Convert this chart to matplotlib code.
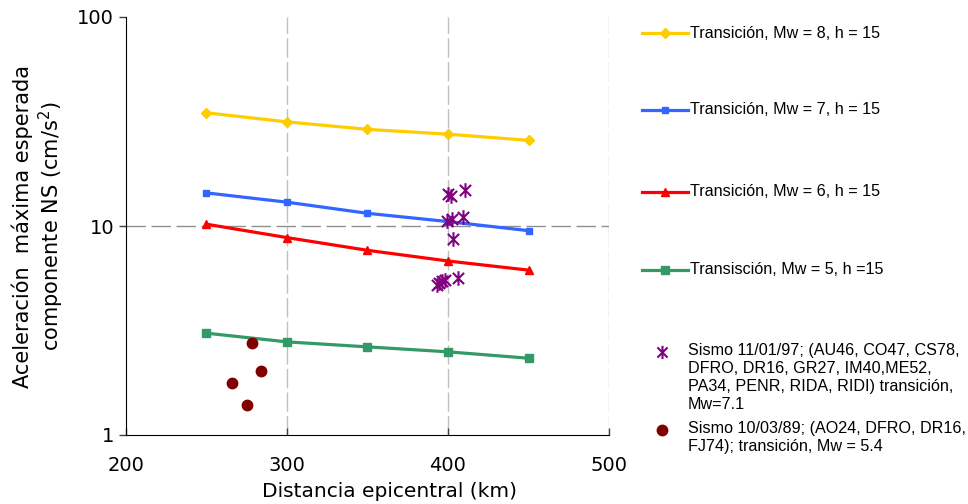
import numpy as np
import matplotlib.pyplot as plt
from matplotlib.lines import Line2D
from matplotlib.path import Path


distance = [250, 300, 350, 400, 450]
mw8 = [34.8, 31.5, 29.0, 27.5, 25.7]
mw7 = [14.4, 13.0, 11.5, 10.5, 9.5]
mw6 = [10.2, 8.8, 7.65, 6.8, 6.15]
mw5 = [3.07, 2.79, 2.64, 2.50, 2.33]

sismo97_x = [400.2, 401.7, 410.6, 399.6, 402.7, 409.1, 402.9, 394.4, 396.3, 398.1, 406.0, 393.2]
sismo97_y = [14.2, 13.9, 14.9, 10.6, 10.8, 11.0, 8.67, 5.32, 5.45, 5.52, 5.62, 5.2]

sismo89_x = [278.4, 283.9, 266.0, 275.0]
sismo89_y = [2.77, 2.02, 1.77, 1.39]

series = [
    ("Transición, Mw = 8, h = 15", mw8, "#FFCC00", "D", 5),
    ("Transición, Mw = 7, h = 15", mw7, "#3366FF", "s", 5),
    ("Transición, Mw = 6, h = 15", mw6, "#FF0000", "^", 6),
    ("Transisción, Mw = 5, h =15", mw5, "#339966", "s", 6),
]
star_label = ("Sismo 11/01/97; (AU46, CO47, CS78,\nDFRO, DR16, GR27, IM40,ME52,\n"
              "PA34, PENR, RIDA, RIDI) transición,\nMw=7.1")
circle_label = "Sismo 10/03/89; (AO24, DFRO, DR16,\nFJ74); transición, Mw = 5.4"

# asterisk like the spreadsheet one: an X plus a vertical bar
star = Path([(-1, -1), (1, 1), (-1, 1), (1, -1), (0, -1.3), (0, 1.3)],
            [Path.MOVETO, Path.LINETO, Path.MOVETO, Path.LINETO, Path.MOVETO, Path.LINETO])

W, H = 968, 504
fig = plt.figure(figsize=(W / 100, H / 100), dpi=100)
ax = fig.add_axes([126 / W, 1 - 435 / H, (609 - 126) / W, (435 - 17) / H])

for x in [300, 400, 500]:
    ax.axvline(x, color="#c0c0c0", lw=1, dashes=(14, 3), zorder=0)
ax.axhline(10, color="#909090", lw=1, dashes=(14, 4), zorder=0)

for label, vals, color, marker, ms in series:
    ax.plot(distance, vals, color=color, lw=2.3, marker=marker, ms=ms, label=label)

ax.plot(sismo97_x, sismo97_y, ls="none", marker=star, ms=10.5, mew=1.5,
        color="#800080", markerfacecolor="none")
ax.plot(sismo89_x, sismo89_y, ls="none", marker="o", ms=7.5, color="#800000")

ax.set_yscale("log")
ax.set_xlim(200, 500)
ax.set_ylim(1, 100)
ax.set_xticks([200, 300, 400, 500])
ax.set_yticks([1, 10, 100])
ax.set_yticklabels(["1", "10", "100"])
ax.minorticks_off()
ax.tick_params(labelsize=14, length=5, width=1, color="#404040")
ax.tick_params(axis="x", direction="in", pad=15)
ax.spines["top"].set_visible(False)
ax.spines["right"].set_visible(False)
ax.set_xlabel("Distancia epicentral (km)", fontsize=14.5)
ax.xaxis.set_label_coords(0.545, -0.113)
ax.set_ylabel("Aceleración  máxima esperada\ncomponente NS (cm/s$^2$)", fontsize=15, labelpad=8)

# legend drawn by hand, positions in pixels
lfont = dict(family="Liberation Sans", fontsize=11.6)
for (label, vals, color, marker, ms), ypx in zip(series, [33, 110, 192, 270]):
    fig.add_artist(Line2D([642 / W, 688 / W], [1 - ypx / H] * 2, color=color, lw=2.3))
    fig.add_artist(Line2D([665 / W], [1 - ypx / H], color=color, marker=marker, ms=ms))
    fig.text(690 / W, 1 - ypx / H, label, va="center", **lfont)

fig.add_artist(Line2D([662 / W], [1 - 352 / H], ls="none", marker=star, ms=9.5, mew=1.5,
                      color="#800080", markerfacecolor="none"))
fig.text(688 / W, 1 - 343 / H, star_label, va="top", linespacing=1.25, **lfont)
fig.add_artist(Line2D([662 / W], [1 - 430 / H], ls="none", marker="o", ms=7.5, color="#800000"))
fig.text(688 / W, 1 - 421 / H, circle_label, va="top", linespacing=1.25, **lfont)

fig.savefig("out.png", dpi=100)
